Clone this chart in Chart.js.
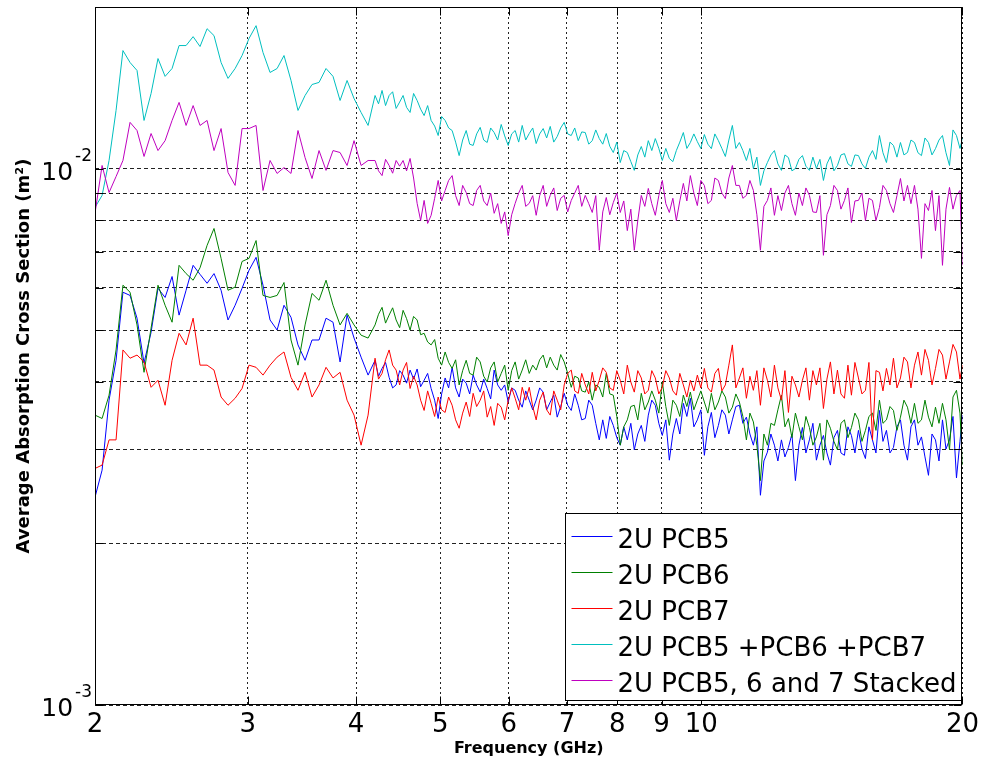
<!DOCTYPE html>
<html>
<head>
<meta charset="utf-8">
<title>Average Absorption Cross Section</title>
<script src="https://cdn.jsdelivr.net/npm/chart.js@4.4.1/dist/chart.umd.min.js"></script>
<style>
  html, body { margin: 0; padding: 0; background: #fff; }
  #wrap { width: 984px; height: 767px; }
</style>
</head>
<body>
<div id="wrap"><canvas id="chart" width="984" height="767"></canvas></div>
<script>
// frequency points (GHz); denser above 4.2 GHz where the traces are noisier
const freqGHz = [
  2.000, 2.038, 2.076, 2.115, 2.154, 2.195, 2.236, 2.278, 2.321, 2.364,
  2.409, 2.454, 2.500, 2.547, 2.595, 2.643, 2.693, 2.743, 2.795, 2.847,
  2.901, 2.955, 3.010, 3.067, 3.124, 3.183, 3.243, 3.303, 3.365, 3.428,
  3.493, 3.558, 3.625, 3.693, 3.762, 3.833, 3.905, 3.978, 4.053, 4.129,
  4.206, 4.245, 4.285, 4.325, 4.366, 4.407, 4.448, 4.490, 4.531, 4.573,
  4.616, 4.659, 4.703, 4.747, 4.791, 4.836, 4.881, 4.927, 4.973, 5.019,
  5.066, 5.113, 5.161, 5.209, 5.258, 5.307, 5.357, 5.407, 5.457, 5.508,
  5.560, 5.612, 5.664, 5.717, 5.770, 5.824, 5.879, 5.934, 5.989, 6.045,
  6.101, 6.158, 6.216, 6.274, 6.333, 6.392, 6.451, 6.511, 6.572, 6.633,
  6.696, 6.759, 6.821, 6.885, 6.949, 7.014, 7.080, 7.146, 7.213, 7.280,
  7.348, 7.417, 7.486, 7.556, 7.627, 7.698, 7.770, 7.843, 7.916, 7.990,
  8.064, 8.139, 8.216, 8.293, 8.370, 8.448, 8.527, 8.607, 8.687, 8.768,
  8.850, 8.933, 9.016, 9.100, 9.186, 9.272, 9.358, 9.445, 9.534, 9.623,
  9.713, 9.804, 9.895, 9.987, 10.081, 10.175, 10.270, 10.366, 10.463, 10.561,
  10.659, 10.758, 10.859, 10.960, 11.063, 11.166, 11.271, 11.376, 11.482, 11.589,
  11.698, 11.807, 11.917, 12.028, 12.141, 12.254, 12.369, 12.484, 12.601, 12.719,
  12.837, 12.957, 13.078, 13.200, 13.323, 13.447, 13.573, 13.700, 13.828, 13.957,
  14.087, 14.219, 14.352, 14.486, 14.621, 14.757, 14.895, 15.034, 15.175, 15.317,
  15.459, 15.603, 15.750, 15.897, 16.045, 16.195, 16.346, 16.499, 16.653, 16.808,
  16.965, 17.123, 17.284, 17.445, 17.608, 17.772, 17.938, 18.106, 18.275, 18.446,
  18.618, 18.792, 18.967, 19.144, 19.323, 19.503, 19.685, 19.869, 20.000
];

// average absorption cross section, in units of 1e-3 m^2
const pcb5 = [
  2.44, 2.74, 3.70, 4.39, 5.88, 5.80, 5.26, 4.34, 4.95, 5.98,
  5.75, 6.29, 5.33, 5.93, 6.60, 6.35, 6.11, 6.37, 5.93, 5.22,
  5.56, 5.98, 6.46, 6.83, 6.06, 5.22, 5.00, 5.56, 5.28, 4.69,
  4.39, 4.79, 4.79, 5.26, 5.17, 4.36, 5.33, 4.83, 4.45, 4.12,
  4.39, 4.10, 4.24, 4.35, 4.08, 3.90, 3.95, 4.20, 4.12, 3.98,
  4.21, 4.05, 4.23, 3.92, 4.03, 4.15, 3.89, 3.70, 3.42, 3.80,
  4.07, 3.90, 4.26, 3.90, 3.75, 4.05, 3.98, 3.80, 4.12, 3.95,
  3.83, 4.05, 3.89, 3.72, 4.21, 3.95, 3.86, 3.95, 3.67, 3.90,
  3.86, 3.70, 3.59, 3.85, 3.70, 3.55, 3.70, 3.90, 3.83, 3.55,
  3.67, 3.78, 3.44, 3.60, 3.81, 3.62, 3.54, 3.80, 3.62, 3.40,
  3.42, 3.70, 3.62, 3.35, 3.12, 3.40, 3.14, 3.45, 3.32, 3.15,
  3.05, 3.30, 3.12, 3.35, 2.99, 3.20, 3.32, 3.10, 3.47, 3.70,
  3.62, 3.35, 3.18, 3.40, 2.86, 3.20, 3.42, 3.20, 3.65, 3.45,
  3.73, 3.30, 3.40, 3.55, 2.92, 3.30, 3.51, 3.15, 3.32, 3.55,
  3.47, 3.20, 3.40, 3.60, 3.62, 3.35, 3.44, 3.20, 3.05, 3.30,
  2.46, 2.85, 2.96, 3.20, 3.05, 2.85, 3.12, 2.90, 3.02, 3.20,
  2.62, 3.05, 3.29, 2.95, 3.12, 3.35, 2.86, 3.05, 3.18, 2.95,
  2.80, 3.15, 3.25, 2.95, 2.92, 3.30, 3.18, 2.95, 3.25, 3.00,
  2.88, 3.30, 3.12, 2.95, 3.54, 3.10, 3.25, 2.95, 3.02, 3.30,
  3.40, 3.05, 2.86, 3.30, 3.40, 3.05, 3.16, 2.90, 2.68, 3.20,
  3.12, 2.85, 3.40, 3.00, 3.12, 3.45, 2.65, 3.10, 3.47
];
const pcb6 = [
  3.47, 3.42, 3.78, 4.59, 6.06, 5.88, 5.11, 4.17, 5.04, 6.06,
  5.56, 5.17, 6.60, 6.37, 6.19, 6.53, 7.19, 7.73, 6.80, 5.93,
  6.01, 6.71, 6.80, 7.34, 5.80, 5.75, 5.80, 6.13, 4.79, 4.30,
  5.11, 5.85, 5.68, 6.19, 5.56, 5.11, 5.37, 5.11, 4.89, 4.83,
  5.11, 5.35, 5.51, 5.15, 5.33, 5.50, 5.22, 5.05, 5.44, 5.25,
  5.00, 5.30, 5.22, 4.90, 4.93, 4.75, 4.69, 4.80, 4.43, 4.30,
  4.55, 4.35, 4.24, 4.40, 3.95, 4.20, 4.39, 4.15, 4.12, 4.45,
  4.36, 4.10, 4.00, 4.25, 4.36, 4.00, 4.15, 4.30, 3.86, 4.20,
  4.36, 4.05, 4.21, 4.40, 4.15, 4.30, 4.21, 4.40, 4.49, 4.25,
  4.45, 4.30, 4.21, 4.50, 4.36, 4.15, 3.91, 4.10, 4.07, 3.85,
  3.83, 4.00, 3.70, 3.95, 3.91, 3.75, 4.15, 3.80, 3.78, 3.45,
  3.05, 3.30, 3.40, 3.60, 3.62, 3.40, 3.81, 3.55, 3.67, 3.85,
  3.70, 3.50, 4.00, 3.60, 3.32, 3.70, 3.62, 3.45, 3.78, 3.60,
  3.83, 3.55, 3.70, 3.85, 3.67, 3.50, 3.81, 3.55, 3.67, 3.85,
  3.75, 3.50, 3.59, 3.80, 3.67, 3.45, 3.12, 3.50, 3.37, 3.05,
  2.62, 3.20, 3.05, 3.35, 3.32, 3.55, 3.78, 3.30, 3.42, 3.15,
  3.50, 3.30, 3.12, 3.45, 3.29, 3.05, 3.16, 3.35, 2.86, 3.40,
  3.28, 3.10, 2.99, 3.35, 3.40, 3.15, 3.29, 3.50, 3.40, 3.10,
  3.25, 3.45, 3.50, 3.25, 3.70, 3.35, 3.40, 3.60, 3.54, 3.25,
  3.44, 3.70, 3.59, 3.35, 3.65, 3.35, 3.40, 3.70, 3.44, 3.30,
  3.59, 3.35, 3.65, 3.40, 2.99, 3.75, 3.86, 3.50, 2.80
];
const pcb7 = [
  2.76, 2.80, 3.12, 3.12, 4.59, 4.43, 4.49, 4.36, 3.91, 4.03,
  3.62, 4.39, 4.93, 4.69, 5.26, 4.30, 4.30, 4.21, 3.75, 3.62,
  3.73, 3.89, 4.30, 4.26, 4.12, 4.30, 4.45, 4.55, 4.08, 3.86,
  4.17, 3.75, 3.95, 4.26, 4.07, 4.17, 3.70, 3.47, 3.05, 3.47,
  4.43, 4.05, 4.15, 4.40, 4.59, 4.30, 4.21, 3.95, 4.21, 4.35,
  3.89, 4.10, 3.95, 3.70, 3.54, 3.85, 3.65, 3.45, 3.75, 3.55,
  3.51, 3.75, 3.62, 3.40, 3.28, 3.50, 3.67, 3.45, 3.81, 3.60,
  3.70, 3.85, 3.44, 3.60, 3.32, 3.65, 3.59, 3.40, 3.70, 3.90,
  3.73, 3.55, 3.91, 3.70, 3.91, 3.60, 3.40, 3.70, 3.83, 3.55,
  3.47, 3.85, 3.70, 3.55, 3.95, 4.15, 4.21, 3.85, 3.81, 4.15,
  3.95, 3.80, 4.17, 3.85, 4.03, 4.25, 4.17, 3.90, 3.86, 4.20,
  4.03, 3.80, 4.30, 4.00, 3.83, 4.20, 4.07, 3.80, 3.86, 4.20,
  4.07, 3.80, 3.91, 4.20, 4.07, 3.85, 3.78, 4.15, 3.95, 3.75,
  4.03, 3.85, 4.12, 3.90, 4.24, 3.90, 3.83, 4.15, 4.24, 3.85,
  3.95, 4.30, 4.69, 3.90, 4.07, 4.25, 3.73, 4.10, 3.86, 4.20,
  3.62, 4.25, 4.03, 3.75, 4.30, 3.90, 3.70, 4.20, 3.51, 4.10,
  3.95, 3.75, 4.03, 4.25, 3.70, 4.20, 3.95, 4.25, 3.57, 4.05,
  4.36, 3.80, 4.21, 3.80, 3.73, 4.30, 3.78, 4.35, 4.07, 3.80,
  3.86, 4.35, 3.12, 4.20, 4.17, 3.85, 4.24, 3.95, 4.43, 3.90,
  4.07, 4.45, 4.36, 3.90, 4.30, 4.55, 4.12, 4.60, 4.39, 3.95,
  4.24, 4.60, 4.49, 4.05, 4.36, 4.70, 4.55, 4.05, 4.30
];
const pcbSum = [
  8.46, 8.91, 10.35, 12.83, 16.59, 15.76, 15.23, 12.29, 13.80, 16.03,
  14.85, 15.36, 16.95, 16.95, 17.61, 16.88, 18.22, 17.69, 15.76, 14.72,
  15.36, 16.24, 17.47, 18.46, 16.45, 15.10, 15.36, 16.24, 14.59, 12.83,
  13.68, 14.34, 14.47, 15.36, 14.85, 13.39, 14.59, 13.50, 12.72, 12.03,
  13.68, 13.2, 13.98, 13.1, 13.68, 13.9, 12.94, 13.3, 13.68, 13.0,
  12.72, 13.8, 13.39, 12.9, 12.55, 13.1, 12.29, 12.0, 11.52, 12.5,
  12.29, 11.9, 11.77, 11.2, 10.57, 11.3, 11.77, 11.1, 11.04, 11.6,
  11.93, 11.3, 11.18, 11.9, 11.67, 11.3, 12.08, 11.5, 11.04, 11.6,
  11.77, 11.2, 12.03, 11.3, 11.62, 11.9, 11.13, 11.6, 11.87, 11.4,
  11.98, 11.2, 11.47, 11.9, 12.19, 11.6, 11.52, 11.9, 11.27, 11.7,
  11.67, 11.1, 11.27, 11.8, 11.37, 11.1, 11.62, 11.0, 10.71, 11.2,
  10.26, 10.8, 10.71, 10.3, 9.92, 10.6, 10.99, 10.5, 11.27, 10.8,
  11.37, 10.9, 10.35, 10.9, 10.44, 10.3, 10.80, 11.2, 11.67, 10.9,
  11.18, 11.6, 11.22, 10.9, 11.57, 11.1, 10.89, 11.6, 11.27, 10.9,
  10.53, 11.3, 12.03, 10.9, 11.18, 10.8, 10.35, 10.9, 10.00, 10.5,
  9.30, 9.9, 10.26, 10.6, 10.80, 10.2, 9.92, 10.6, 10.48, 9.9,
  10.00, 10.4, 10.57, 10.1, 9.92, 10.5, 10.00, 10.4, 9.50, 10.2,
  10.53, 9.9, 10.13, 10.6, 10.66, 10.2, 10.09, 10.6, 10.57, 10.2,
  10.00, 10.5, 10.80, 10.4, 11.52, 10.7, 10.26, 11.2, 11.04, 10.5,
  11.18, 10.6, 10.71, 11.3, 11.18, 10.7, 10.57, 11.4, 11.18, 10.6,
  10.89, 11.3, 11.52, 10.7, 10.13, 11.8, 11.52, 10.9, 11.37
];
const pcbStacked = [
  8.25, 10.13, 9.02, 9.66, 10.35, 12.19, 11.77, 10.53, 11.62, 10.80,
  11.27, 12.29, 13.28, 12.03, 13.10, 12.03, 12.29, 10.80, 11.87, 9.83,
  9.30, 11.87, 11.87, 12.03, 9.10, 10.35, 9.79, 10.04, 9.79, 11.77,
  10.48, 9.58, 10.80, 9.92, 10.80, 10.71, 10.13, 11.27, 10.13, 10.35,
  10.35, 9.9, 9.70, 10.4, 10.13, 9.8, 10.35, 10.1, 10.35, 9.9,
  10.44, 9.6, 8.61, 8.0, 8.72, 7.9, 8.18, 8.8, 9.50, 8.7,
  9.10, 9.5, 9.70, 8.9, 8.53, 9.3, 9.02, 8.6, 8.53, 9.1,
  9.30, 8.7, 8.53, 9.0, 8.25, 8.6, 7.90, 8.3, 7.50, 8.2,
  8.61, 9.0, 9.30, 8.5, 8.61, 8.9, 8.18, 8.9, 9.30, 8.5,
  8.91, 9.2, 8.35, 8.8, 8.91, 8.3, 8.72, 9.0, 9.30, 8.5,
  8.91, 8.6, 8.28, 8.9, 7.04, 8.3, 8.83, 8.2, 8.64, 9.0,
  8.28, 8.7, 7.66, 8.4, 7.04, 8.0, 8.91, 8.5, 9.18, 8.6,
  8.18, 8.9, 9.50, 8.6, 8.28, 8.8, 8.00, 8.7, 9.38, 8.7,
  9.70, 9.0, 8.53, 9.5, 9.30, 8.6, 8.72, 9.6, 9.50, 9.0,
  8.79, 9.6, 10.13, 9.3, 9.30, 8.8, 8.91, 9.5, 9.10, 8.2,
  7.04, 8.5, 8.72, 9.2, 8.18, 8.9, 8.35, 9.0, 9.30, 8.6,
  8.18, 9.0, 8.53, 9.2, 8.91, 8.3, 8.28, 8.9, 6.89, 8.2,
  8.53, 9.3, 9.10, 8.4, 8.72, 9.2, 7.93, 8.7, 8.72, 9.0,
  8.00, 8.8, 8.72, 8.0, 8.46, 9.3, 9.10, 8.6, 8.28, 8.9,
  9.58, 8.7, 9.30, 8.6, 9.30, 8.4, 6.80, 8.6, 8.35, 9.1,
  7.66, 8.9, 6.60, 8.4, 9.22, 8.4, 8.91, 9.1, 6.60
];

const seriesLabels = ['2U PCB5', '2U PCB6', '2U PCB7', '2U PCB5 +PCB6 +PCB7', '2U PCB5, 6 and 7 Stacked'];
const seriesColors = ['#0000ff', '#008000', '#ff0000', '#00bfbf', '#bf00bf'];
const xTicks = [2, 3, 4, 5, 6, 7, 8, 9, 10, 20];
const yGridTicks = [0.001, 0.002, 0.003, 0.004, 0.005, 0.006, 0.007, 0.008, 0.009, 0.01];
const yLabelTicks = [0.001, 0.01];

const FONT = '"DejaVu Sans", "Liberation Sans", sans-serif';

function toPoints(vals) {
  return freqGHz.map((f, i) => ({ x: f, y: vals[i] * 1e-3 }));
}

const allSeries = [pcb5, pcb6, pcb7, pcbSum, pcbStacked];
const datasets = allSeries.map((vals, i) => ({
  label: seriesLabels[i],
  data: toPoints(vals),
  borderColor: seriesColors[i],
  borderWidth: 1,
  pointRadius: 0,
  fill: false,
  tension: 0,
  // later series drawn on top, like the original
  order: allSeries.length - i
}));

// box around the axes, inside tick marks and the 10^n labels
const framePlugin = {
  id: 'frame',
  afterDraw(chart) {
    const { ctx, chartArea: a, scales } = chart;
    const L = Math.round(a.left) + 0.5, R = Math.round(a.right) - 0.5;
    const T = Math.round(a.top) + 0.5, B = Math.round(a.bottom) - 0.5;
    ctx.save();
    ctx.setLineDash([]);
    ctx.strokeStyle = '#000';
    ctx.lineWidth = 1;
    ctx.strokeRect(L, T, R - L, B - T);

    ctx.beginPath();
    scales.x.ticks.forEach(t => {
      const px = Math.round(scales.x.getPixelForValue(t.value)) + 0.5;
      ctx.moveTo(px, B); ctx.lineTo(px, B - 8);
      ctx.moveTo(px, T); ctx.lineTo(px, T + 8);
    });
    scales.y.ticks.forEach(t => {
      const py = Math.round(scales.y.getPixelForValue(t.value)) + 0.5;
      ctx.moveTo(L, py); ctx.lineTo(L + 8, py);
      ctx.moveTo(R, py); ctx.lineTo(R - 8, py);
    });
    ctx.stroke();

    ctx.fillStyle = '#000';
    ctx.textBaseline = 'alphabetic';
    ctx.textAlign = 'right';
    yLabelTicks.forEach(v => {
      const py = scales.y.getPixelForValue(v);
      const exp = String(Math.round(Math.log10(v)));
      ctx.font = '17px ' + FONT;
      const ew = ctx.measureText(exp).width;
      ctx.fillText(exp, a.left - 3, py - 8);
      ctx.font = '25px ' + FONT;
      ctx.fillText('10', a.left - 3 - ew - 2, py + 11);
    });
    ctx.restore();
  }
};

// boxed legend in the lower right corner of the axes
const legendPlugin = {
  id: 'boxLegend',
  afterDraw(chart) {
    const { ctx, chartArea: a } = chart;
    const w = 396, h = 187;
    const x0 = Math.round(a.right) - w - 0.5;
    const y0 = Math.round(a.bottom) - h - 4.5;
    ctx.save();
    ctx.setLineDash([]);
    ctx.fillStyle = '#fff';
    ctx.fillRect(x0, y0, w, h);
    ctx.strokeStyle = '#000';
    ctx.lineWidth = 1;
    ctx.strokeRect(x0, y0, w, h);
    ctx.font = '26px ' + FONT;
    ctx.textAlign = 'left';
    ctx.textBaseline = 'alphabetic';
    chart.data.datasets.forEach((ds, i) => {
      const ly = Math.round(y0 + 22 + i * 36) + 0.5;
      ctx.strokeStyle = ds.borderColor;
      ctx.beginPath();
      ctx.moveTo(x0 + 6, ly);
      ctx.lineTo(x0 + 47, ly);
      ctx.stroke();
      ctx.fillStyle = '#000';
      ctx.fillText(ds.label, x0 + 52, ly + 11);
    });
    ctx.restore();
  }
};

new Chart(document.getElementById('chart'), {
  type: 'line',
  data: { datasets },
  options: {
    responsive: false,
    animation: false,
    devicePixelRatio: 1,
    events: [],
    layout: { padding: { top: 7, right: 21, left: 0, bottom: 0 } },
    plugins: {
      legend: { display: false },
      tooltip: { enabled: false }
    },
    scales: {
      x: {
        type: 'logarithmic',
        min: 2,
        max: 20,
        afterBuildTicks: s => { s.ticks = xTicks.map(v => ({ value: v })); },
        afterFit: s => { s.height = 62; },
        ticks: {
          autoSkip: false,
          maxRotation: 0,
          color: '#000',
          padding: 5,
          font: { family: FONT, size: 26 },
          callback: v => String(v)
        },
        grid: { color: '#222', lineWidth: 1, drawTicks: false },
        border: { display: false, dash: [2, 3] },
        title: {
          display: true,
          text: 'Frequency (GHz)',
          color: '#000',
          font: { family: FONT, size: 16, weight: 'bold' },
          padding: { top: 0, bottom: 9 }
        }
      },
      y: {
        type: 'logarithmic',
        min: 0.001,
        max: 0.02,
        afterBuildTicks: s => { s.ticks = yGridTicks.map(v => ({ value: v })); },
        afterFit: s => { s.width = 95; },
        ticks: { display: false },
        grid: { color: '#222', lineWidth: 1, drawTicks: false },
        border: { display: false, dash: [4, 3] },
        title: {
          display: true,
          text: 'Average Absorption Cross Section (m²)',
          color: '#000',
          font: { family: FONT, size: 18, weight: 'bold' },
          padding: { top: 14, bottom: 0 }
        }
      }
    }
  },
  plugins: [framePlugin, legendPlugin]
});
</script>
</body>
</html>
